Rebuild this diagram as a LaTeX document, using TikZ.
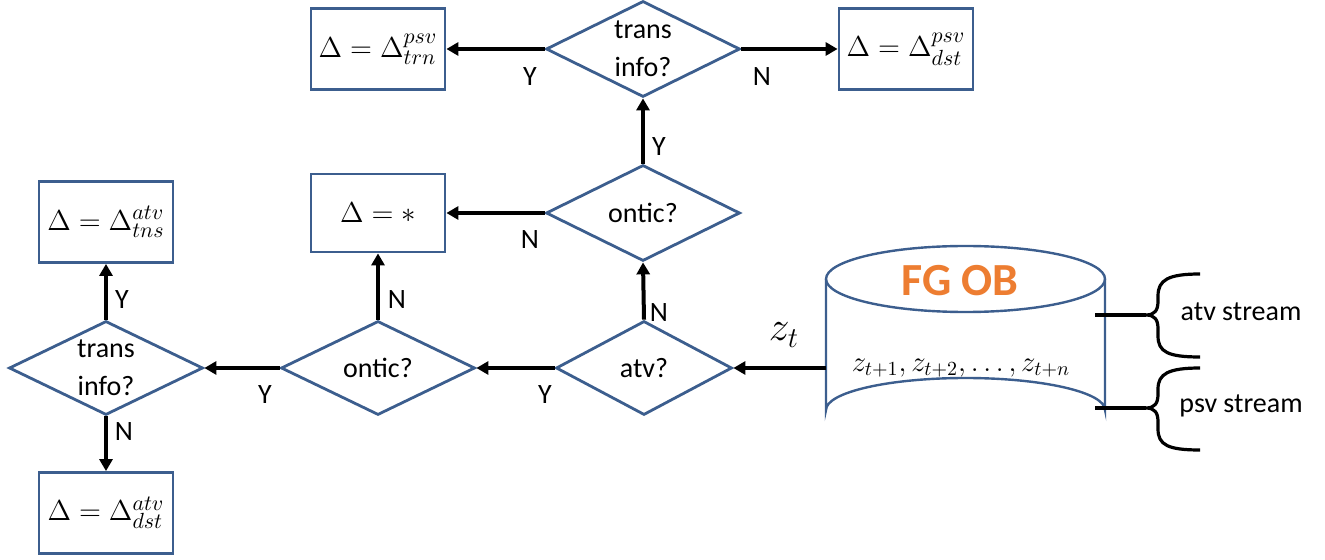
\documentclass[tikz,border=0pt]{standalone}
\usepackage[no-math]{fontspec}
\setmainfont{Carlito}
\usetikzlibrary{shapes.geometric,arrows.meta}
\definecolor{bord}{RGB}{60,94,142}
\definecolor{fgorange}{RGB}{237,125,49}
\tikzset{
  box/.style={draw=bord, line width=1.4pt, minimum width=67pt, minimum height=40.5pt, inner sep=0pt, font=\fontsize{15}{17}\selectfont},
  dec/.style={draw=bord, line width=1.4pt, shape=diamond, aspect=2, minimum width=97pt, minimum height=48pt, inner sep=0pt, align=center, font=\fontsize{14}{19}\selectfont},
  arr/.style={line width=2pt, -{Triangle[length=6pt,width=6.5pt]}},
  lbl/.style={font=\fontsize{14}{16}\selectfont, inner sep=0pt},
  bracestyle/.style={line width=1.6pt},
}
\begin{document}
\begin{tikzpicture}[x=0.5pt, y=-0.5pt]
\useasboundingbox (0,0) rectangle (1325,560);

% boxes
\node[box] (b1) at (378,49) {$\Delta=\Delta^{psv}_{trn}$};
\node[box] (b2) at (906,49) {$\Delta=\Delta^{psv}_{dst}$};
\node[box, minimum height=39pt] (b3) at (378,213) {$\Delta=*$};
\node[box] (b4) at (106,222) {$\Delta=\Delta^{atv}_{tns}$};
\node[box] (b5) at (106,513) {$\Delta=\Delta^{atv}_{dst}$};

% decisions
\node[dec] (d1) at (643,49) {trans\\info?};
\node[dec] (d2) at (643,213) {ontic?};
\node[dec, minimum width=88pt, minimum height=47pt] (d3) at (644,368) {atv?};
\node[dec, minimum height=47pt] (d4) at (378,368) {ontic?};
\node[dec, minimum height=47pt] (d5) at (106,368) {trans\\info?};

% cylinder
\coordinate (cl) at (826,368);
\draw[draw=bord, line width=1.2pt, fill=white]
  (826,279) -- (826,410) arc[start angle=180, end angle=360, x radius=139.5, y radius=32] -- (1105,279);
\draw[draw=bord, line width=1.2pt] (965.5,279) ellipse[x radius=139.5, y radius=33];
\node[font=\fontsize{23}{26}\selectfont\bfseries, text=fgorange] (fg) at (960,281) {FG OB};
\node[font=\fontsize{14.5}{16}\selectfont] (zs) at (961,368) {$z_{t+1}, z_{t+2}, \ldots, z_{t+n}$};

% arrows
\draw[arr] (cl) -- (d3.east);
\node[font=\fontsize{20}{22}\selectfont] (zt) at (784,335) {$z_t$};
\draw[arr] (d3.north) -- (d2.south);
\draw[arr] (d2.north) -- (d1.south);
\draw[arr] (d1.west) -- (b1.east);
\draw[arr] (d1.east) -- (b2.west);
\draw[arr] (d2.west) -- (b3.east);
\draw[arr] (d3.west) -- (d4.east);
\draw[arr] (d4.north) -- (b3.south);
\draw[arr] (d4.west) -- (d5.east);
\draw[arr] (d5.north) -- (b4.south);
\draw[arr] (d5.south) -- (b5.north);

% labels
\node[lbl] (l1) at (530,77) {Y};
\node[lbl] (l2) at (762,77) {N};
\node[lbl] (l3) at (659,147) {Y};
\node[lbl] (l4) at (530,240) {N};
\node[lbl] (l5) at (659,313) {N};
\node[lbl] (l6) at (545,395) {Y};
\node[lbl] (l7) at (397,300) {N};
\node[lbl] (l8) at (265,395) {Y};
\node[lbl] (l9) at (122,300) {Y};
\node[lbl] (l10) at (124,432) {N};

% braces
\coordinate (t1) at (1200,274);
\coordinate (u1) at (1200,357);
\coordinate (m1) at (1146,315);
\coordinate (t2) at (1200,368);
\coordinate (u2) at (1200,450);
\coordinate (m2) at (1146,408);
\coordinate (c1) at (1095,315);
\coordinate (c2) at (1095,408);
\draw[bracestyle] (t1) .. controls (1168,274) and (1158,280) .. (1158,296)
  -- (1158,301) .. controls (1158,310) and (1155,315) .. (m1)
  .. controls (1155,315) and (1158,320) .. (1158,329)
  -- (1158,336) .. controls (1158,352) and (1168,357) .. (u1);
\draw[bracestyle] (t2) .. controls (1168,368) and (1158,374) .. (1158,389)
  -- (1158,394) .. controls (1158,403) and (1155,408) .. (m2)
  .. controls (1155,408) and (1158,413) .. (1158,422)
  -- (1158,429) .. controls (1158,445) and (1168,450) .. (u2);
\draw[bracestyle] (c1) -- (m1);
\draw[bracestyle] (c2) -- (m2);
\node[lbl] (s1) at (1241,312) {atv stream};
\node[lbl] (s2) at (1241,406) {psv stream};
\end{tikzpicture}
\end{document}
